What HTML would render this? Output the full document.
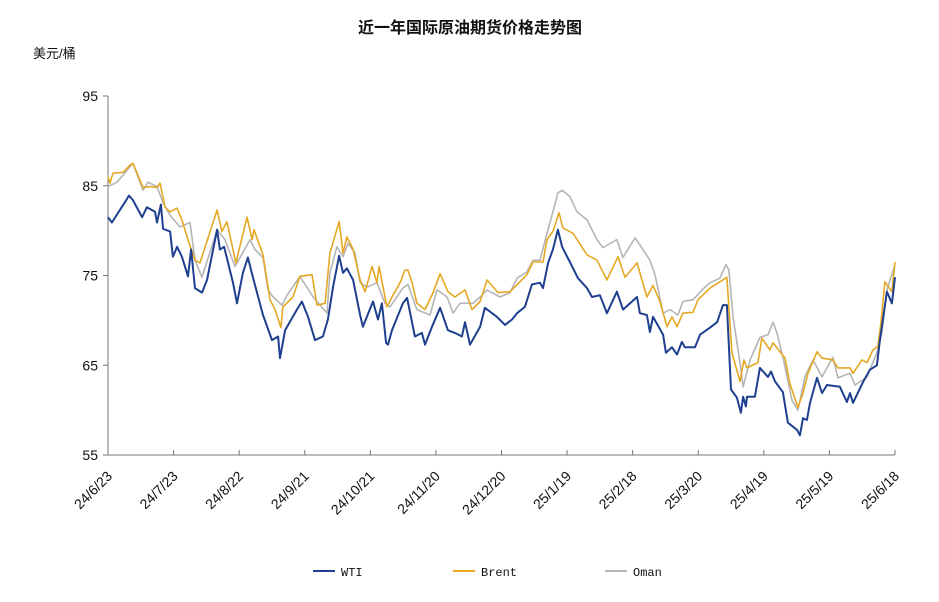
<!DOCTYPE html>
<html><head><meta charset="utf-8"><style>
body{margin:0;background:#fff;}
svg{display:block;font-family:"Liberation Sans","Noto Sans CJK SC",sans-serif;}
</style></head><body>
<svg id="chart" width="939" height="602">
<text x="470" y="33" text-anchor="middle" font-size="16" font-weight="bold" fill="#111">近一年国际原油期货价格走势图</text>
<text x="33" y="58" font-size="13" fill="#111">美元/桶</text>
<g id="axes"></g><g id="series"></g><g id="legend"></g>
</svg>
<script>
const yTicks=[55,65,75,85,95];
const xTickLabels=["24/6/23","24/7/23","24/8/22","24/9/21","24/10/21","24/11/20","24/12/20","25/1/19","25/2/18","25/3/20","25/4/19","25/5/19","25/6/18"];
const seriesNames=["WTI","Brent","Oman"];
const wtiDays=[0,1.8,4.1,7.8,9.6,11.4,15.6,17.8,21.5,22.4,24.2,25.2,28.4,29.7,31.6,33.8,36.6,38,39.8,43,45.3,49.9,51.2,53.1,57.2,59,61.7,64,66.3,70.9,75,77.8,78.7,81,86.4,88.7,91.5,94.7,98.3,100.6,102.9,105.7,107.5,109.3,112.1,115.3,116.6,121.2,123.5,125.3,127.2,128.1,129.9,134.9,136.8,140.4,143.6,145,148.2,151.9,155.5,158.7,161.9,163.3,165.6,170.2,172.4,177.9,181.6,184.8,187.1,190.7,193.9,197.6,199,201.3,203.5,205.8,207.7,211.3,215,219.1,221.4,225,228.2,232.8,235.6,242,243.3,246.5,247.9,249.3,253.9,255.2,258,260.3,262.5,263.9,268.5,270.8,275.4,278.6,281.3,283.1,285,287.7,289.5,290.5,291.8,292.3,295.9,298.2,301.9,303.3,305.1,308.7,311,315.2,316.5,317.9,319.7,321.1,324.3,326.6,328.9,334.8,338,339.4,340.8,345.3,348.5,351.7,353.1,356.3,358.6,360];
const wtiValues=[81.5,80.9,81.8,83.2,83.9,83.4,81.5,82.6,82.1,80.9,82.9,80.2,79.9,77.1,78.2,77.1,74.9,77.9,73.6,73.1,74.5,80.1,77.9,78.2,74.2,71.9,75.3,77,74.8,70.6,67.8,68.2,65.8,68.9,71.2,72.1,70.4,67.8,68.2,70.1,73.7,77.2,75.3,75.8,74.5,70.6,69.3,72.1,70.1,71.9,67.5,67.3,68.9,71.9,72.5,68.2,68.6,67.3,69.3,71.4,68.9,68.6,68.2,69.8,67.3,69.3,71.4,70.4,69.5,70.1,70.8,71.5,74,74.2,73.6,76.4,77.9,80.1,78.2,76.5,74.7,73.6,72.6,72.8,70.8,73.2,71.2,72.6,70.8,70.6,68.7,70.4,68.4,66.4,67,66.2,67.6,67,67,68.4,69.2,69.8,71.7,71.7,62.3,61.4,59.7,61.5,60.4,61.5,61.5,64.7,63.7,64.3,63.2,62,58.6,57.8,57.2,59.1,58.9,60.8,63.6,61.9,62.8,62.6,60.9,61.9,60.8,63.1,64.5,65,67.8,73.2,71.9,74.8];
const brentDays=[0,0.9,2.3,6.9,10.1,11.4,13.3,16,19.2,22.4,23.8,26.1,28.4,31.6,33.8,36.6,39.8,42.1,49.9,52.1,54.4,58.5,63.6,65.9,66.8,70.9,74.1,76.4,79.1,80,84.6,87.8,93.3,95.6,99.3,101.5,105.7,107.5,109.3,112.1,115.3,117.6,120.8,123,124,127.6,129.9,133.6,135.8,137.2,139.1,141.3,145,148.7,151.9,155.5,158.7,163.3,166.5,170.2,173.4,178.4,183.9,188.4,191.6,194.4,199,200.8,203.5,206.3,208.1,212.7,219.1,223.7,228.2,233.3,236.5,242,246.5,249.3,252.5,255.7,258,260.3,263,267.6,269.9,275.4,279.9,283.1,285.4,289.1,290.9,292.3,297.3,299.1,302.8,304.2,309.7,311.9,315.6,317.9,320.2,324.3,326.6,331.6,333.9,339.4,340.8,344.9,347.2,349.9,352.2,353.6,355.4,358.6,360];
const brentValues=[86,85.3,86.4,86.5,87.3,87.5,86.4,84.8,84.9,84.8,85.3,82.6,82.1,82.5,81.2,79,76.7,76.4,82.3,79.9,81,76.4,81.5,79,80.1,77.3,72.3,71.2,69.2,71.5,72.6,74.9,75.1,71.7,71.9,77.5,81,77.5,79.3,77.9,74.5,73.2,76,74.2,76,71.5,72.6,74.2,75.6,75.6,74.2,71.9,71.2,73.1,75.2,73.2,72.6,73.4,71.2,72.1,74.5,73.1,73.2,74.3,75.1,76.5,76.5,79,79.9,82,80.3,79.7,77.3,76.7,74.5,77.1,74.8,76.4,72.6,73.9,72.1,69.3,70.4,69.3,70.8,70.9,72.3,73.6,74.3,74.8,66.4,63.2,65.6,64.7,65.3,68,66.7,67.5,65.8,63,60.3,61.9,64.1,66.5,65.8,65.6,64.7,64.7,64.1,65.6,65.3,66.7,67.1,69.8,74.3,73.2,76.5];
const omanDays=[0,4.1,11.4,16,18.3,22.4,25.2,28.4,32.9,37.5,39.8,43,49.9,53.5,58.1,65,67.2,70.9,73.2,75.5,79.6,81.9,87.8,93.8,100.2,101.5,104.7,107.5,109.8,113,115.3,118.5,123,126.7,129,134.9,137.2,141.3,147.3,150.5,155.1,157.8,161,167,170.2,173.4,179.3,183.9,187.1,191.6,194.4,197.6,200.8,203.5,205.8,207.7,211.3,214.5,219.1,223.7,226.4,232.8,235.6,241.1,244.7,247.9,250.2,253.9,257.1,260.7,263,267.6,271.7,275.4,279.9,282.7,284,285.9,289.1,290.5,293.7,298.2,301.9,304.2,306,308.7,312.9,315.6,318.8,322.5,326.6,331.6,333.9,339.4,341.7,347.2,351.7,354,356.3,360];
const omanValues=[84.9,85.4,87.5,84.5,85.4,84.9,83.1,81.7,80.4,80.9,76.7,74.8,80.1,79,76,79,77.9,77,73.4,72.6,71.7,72.8,74.9,72.6,70.8,75.3,78.2,77.1,78.6,77.5,74.2,73.7,74.2,71.9,71.5,73.6,74,71.2,70.6,73.4,72.6,70.8,71.9,71.9,72.6,73.4,72.6,73.1,74.7,75.4,76.7,76.7,79.7,82.1,84.2,84.5,83.8,82.1,81.2,79,78.1,79,77,79.2,77.9,76.7,75.1,70.8,71.2,70.6,72.1,72.3,73.4,74.2,74.7,76.2,75.6,70.4,65.3,62.6,65.6,68.1,68.4,69.8,68.6,65.9,61.1,60,63.7,65.6,63.7,65.9,63.6,64.1,62.8,63.7,66.4,68.6,73.4,76.2];

const NS="http://www.w3.org/2000/svg";
const X0=108,X1=895,Y0=455,Y1=96,DMAX=360;
const xScale=d=>X0+(d/DMAX)*(X1-X0);
const yScale=v=>Y0-(v-55)/(95-55)*(Y0-Y1);
function mk(tag,attrs,parent){const e=document.createElementNS(NS,tag);for(const k in attrs)e.setAttribute(k,attrs[k]);parent.appendChild(e);return e;}
const axes=document.getElementById('axes');
let ya=mk('line',{x1:X0,y1:Y1,x2:X0,y2:Y0,stroke:'#777','stroke-width':1},axes);


let xa=mk('line',{x1:X0,y1:Y0,x2:X1,y2:Y0,stroke:'#777','stroke-width':1},axes);


yTicks.forEach(v=>{
  const y=yScale(v);
  mk('line',{x1:X0-5,y1:y,x2:X0,y2:y,stroke:'#777'},axes);
  const t=mk('text',{x:X0-10,y:y+5,'text-anchor':'end','font-size':14,fill:'#111'},axes);
  t.textContent=v;
  
  
});
xTickLabels.forEach((lab,i)=>{
  const x=X0+i*(X1-X0)/(xTickLabels.length-1);
  if(i>0) mk('line',{x1:x,y1:Y0-5,x2:x,y2:Y0,stroke:'#777'},axes);
  const ax=x+5, ay=Y0+22;
  const t=mk('text',{x:ax,y:ay,'text-anchor':'end','font-size':14,fill:'#111',transform:`rotate(-45 ${ax} ${ay})`},axes);
  t.textContent=lab;
  
  
});
const colors=["#1f3f8f","#e5a823","#b5b5b5"];
const widths=[2,1.6,1.6];
const data=[[wtiDays,wtiValues],[brentDays,brentValues],[omanDays,omanValues]];
const sg=document.getElementById('series');
[2,1,0].forEach(i=>{
  const [ds,vs]=data[i];
  const pts=ds.map((d,j)=>xScale(d).toFixed(1)+','+yScale(vs[j]).toFixed(1)).join(' ');
  const p=mk('polyline',{points:pts,fill:'none',stroke:colors[i],'stroke-width':widths[i],'stroke-linejoin':'round'},sg);
  
  
});
const lg=document.getElementById('legend');
const lx=[313,453,605];
seriesNames.forEach((n,i)=>{
  const g=mk('g',{},lg);
  
  
  mk('line',{x1:lx[i],y1:571,x2:lx[i]+22,y2:571,stroke:colors[i],'stroke-width':2},g);
  const t=mk('text',{x:lx[i]+28,y:576,'font-size':12,fill:'#111','font-family':'"Liberation Mono",monospace'},g);
  t.textContent=n;
});
</script>
</body></html>
